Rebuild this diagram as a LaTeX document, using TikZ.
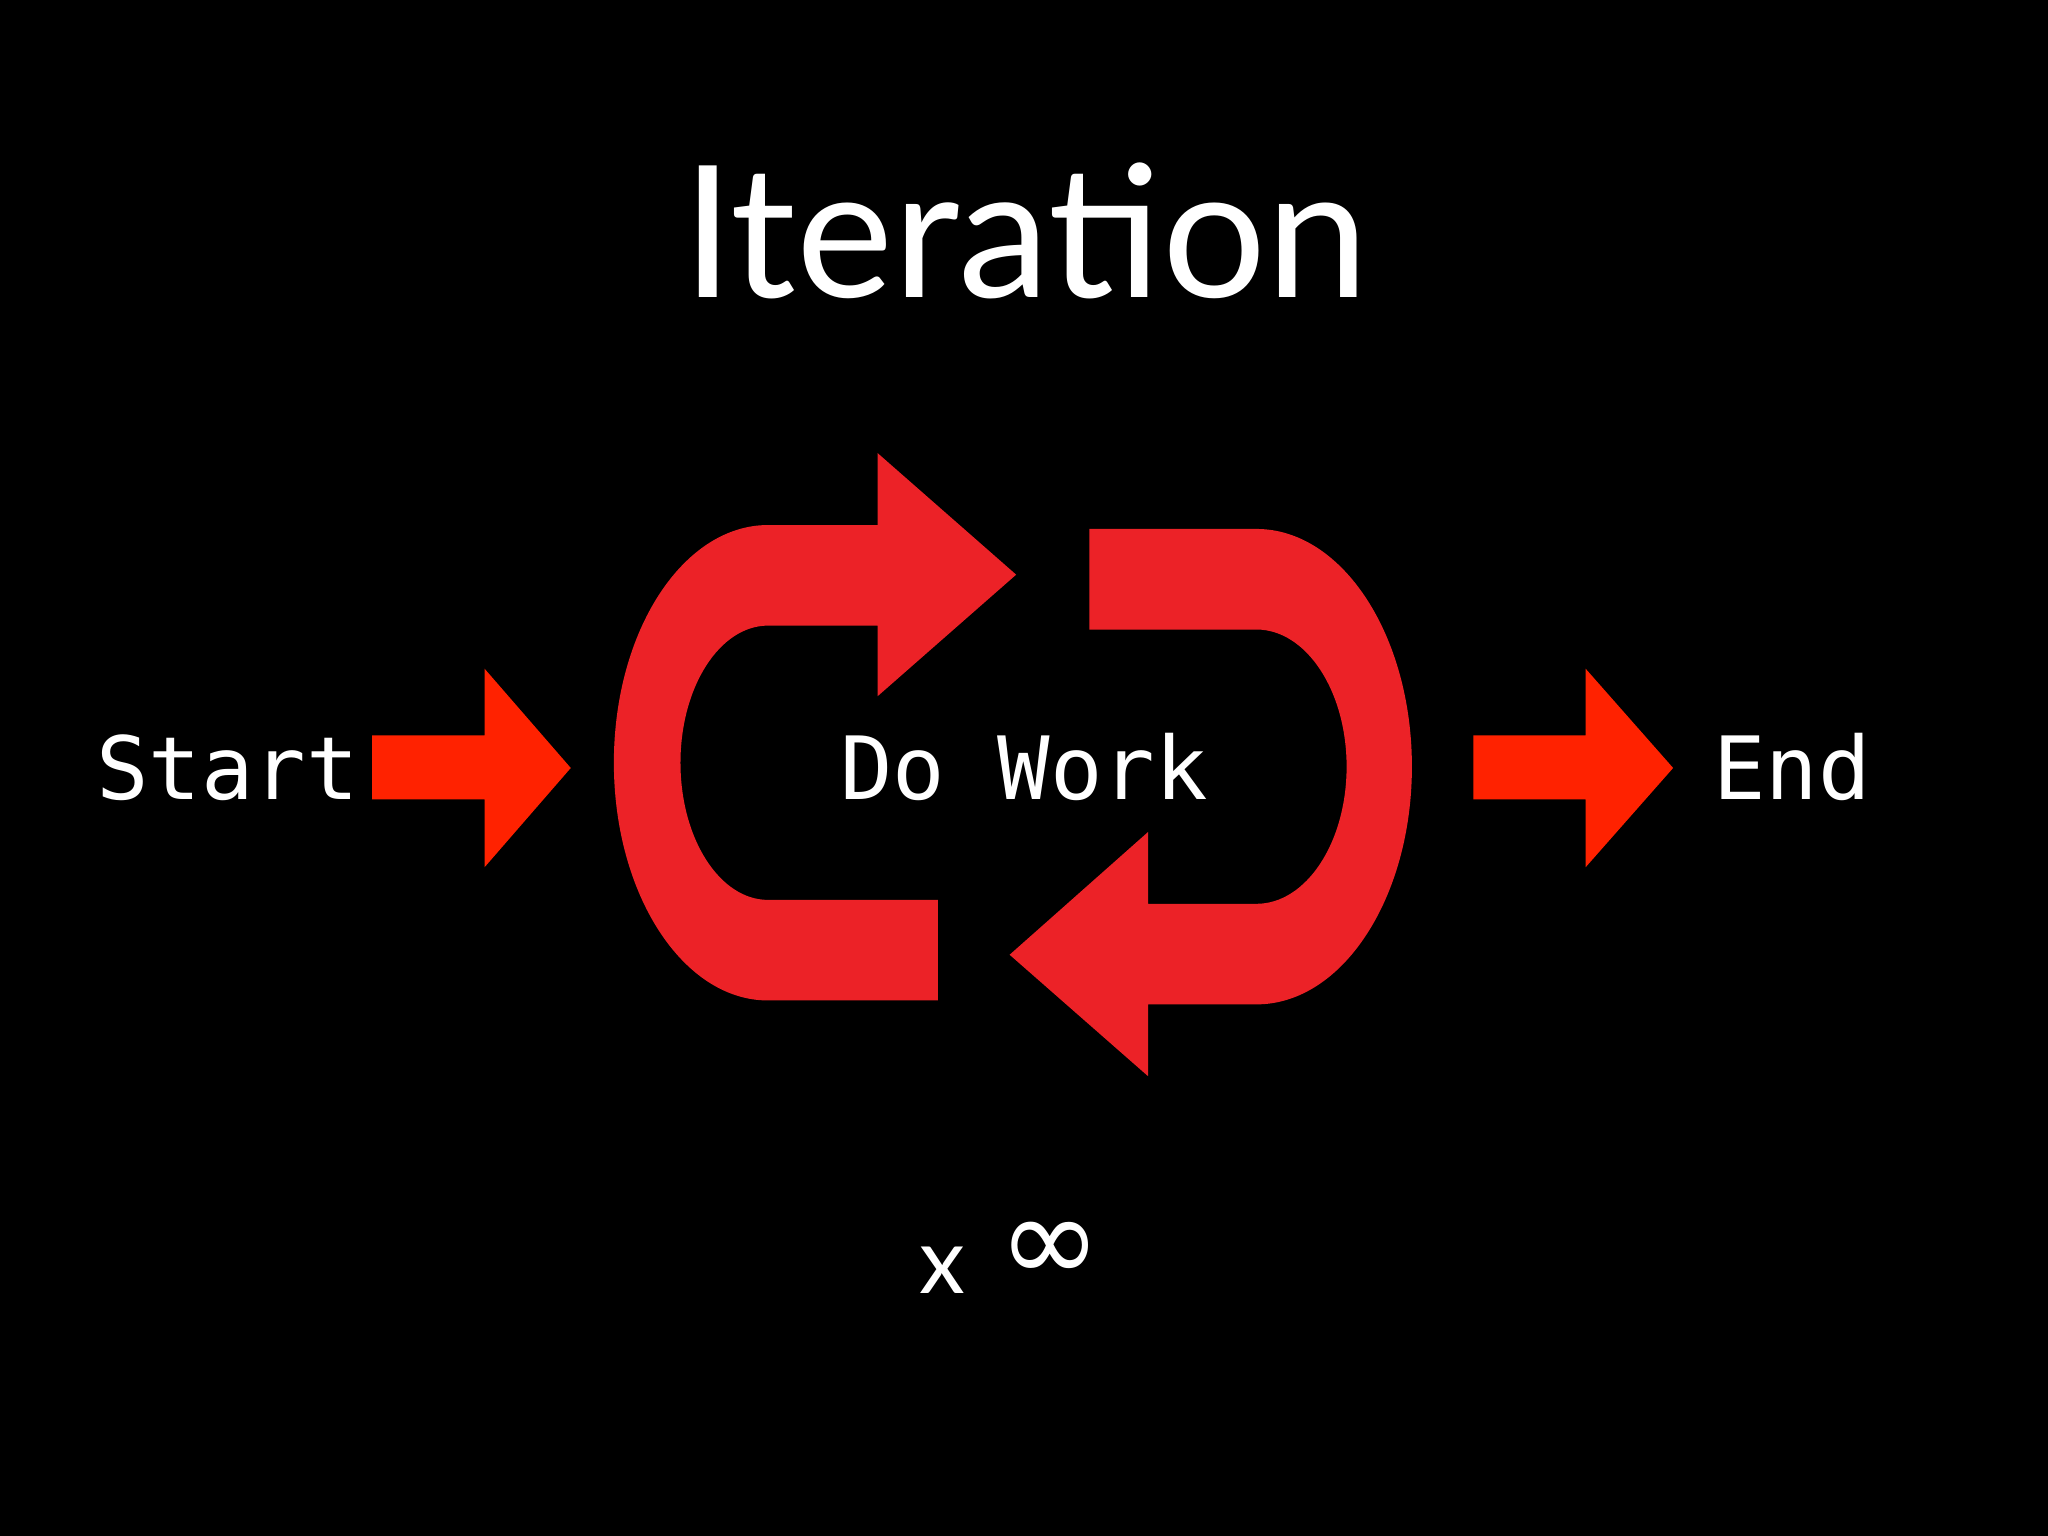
\documentclass[tikz,border=0pt]{standalone}
\usepackage{fontspec}
\setmainfont{Lato}
\newfontfamily\monof{DejaVu Sans Mono}
\newfontfamily\symf{DejaVu Sans}
\definecolor{loopred}{HTML}{EC2227}
\definecolor{arrred}{HTML}{FF2200}
\tikzset{
  lbl/.style={text=white,inner sep=0pt,font=\monof\fontsize{19}{22}\selectfont},
  loopfill/.style={fill=loopred,draw=none},
  arrfill/.style={fill=arrred,draw=none}
}
\begin{document}
\begin{tikzpicture}[x=0.01cm,y=0.01cm]
\fill[black] (0,0) rectangle (1568,1176);
\useasboundingbox (0,0) rectangle (1568,1176);
\node[text=white,inner sep=0pt,anchor=base,font=\fontsize{40}{46}\selectfont] (title) at (785,948) {Iteration};
% left loop piece
\path[loopfill] (672,774) -- (588,774) arc[start angle=90,end angle=270,x radius=118,y radius=182]
  -- (718,410) -- (718,487) -- (588,487) arc[start angle=270,end angle=90,x radius=67,y radius=105]
  -- (672,697) -- (672,643) -- (778,736) -- (672,829) -- cycle;
% right loop piece
\path[loopfill] (834,771) -- (962,771) arc[start angle=90,end angle=-90,x radius=119,y radius=182]
  -- (879,407) -- (879,352) -- (773,445) -- (879,539) -- (879,484) -- (962,484)
  arc[start angle=-90,end angle=90,x radius=69,y radius=105] -- (834,694) -- cycle;
% start / end arrows
\path[arrfill] (285,613) -- (371,613) -- (371,664) -- (437,588) -- (371,512) -- (371,564) -- (285,564) -- cycle;
\path[arrfill] (1128,613) -- (1214,613) -- (1214,664) -- (1281,588) -- (1214,512) -- (1214,564) -- (1128,564) -- cycle;
\node[lbl,anchor=base west] (start) at (73,564) {Start};
\node[lbl,anchor=base west] (end) at (1311,564) {End};
\node[lbl,anchor=base] (work) at (784,564) {Do Work};
\node[text=white,inner sep=0pt,anchor=base east,font=\fontsize{20}{24}\selectfont] (x) at (740,186) {x};
\node[text=white,inner sep=0pt,anchor=base west,font=\symf\fontsize{27}{30}\selectfont] (inf) at (764,194) {∞};
\end{tikzpicture}
\end{document}
